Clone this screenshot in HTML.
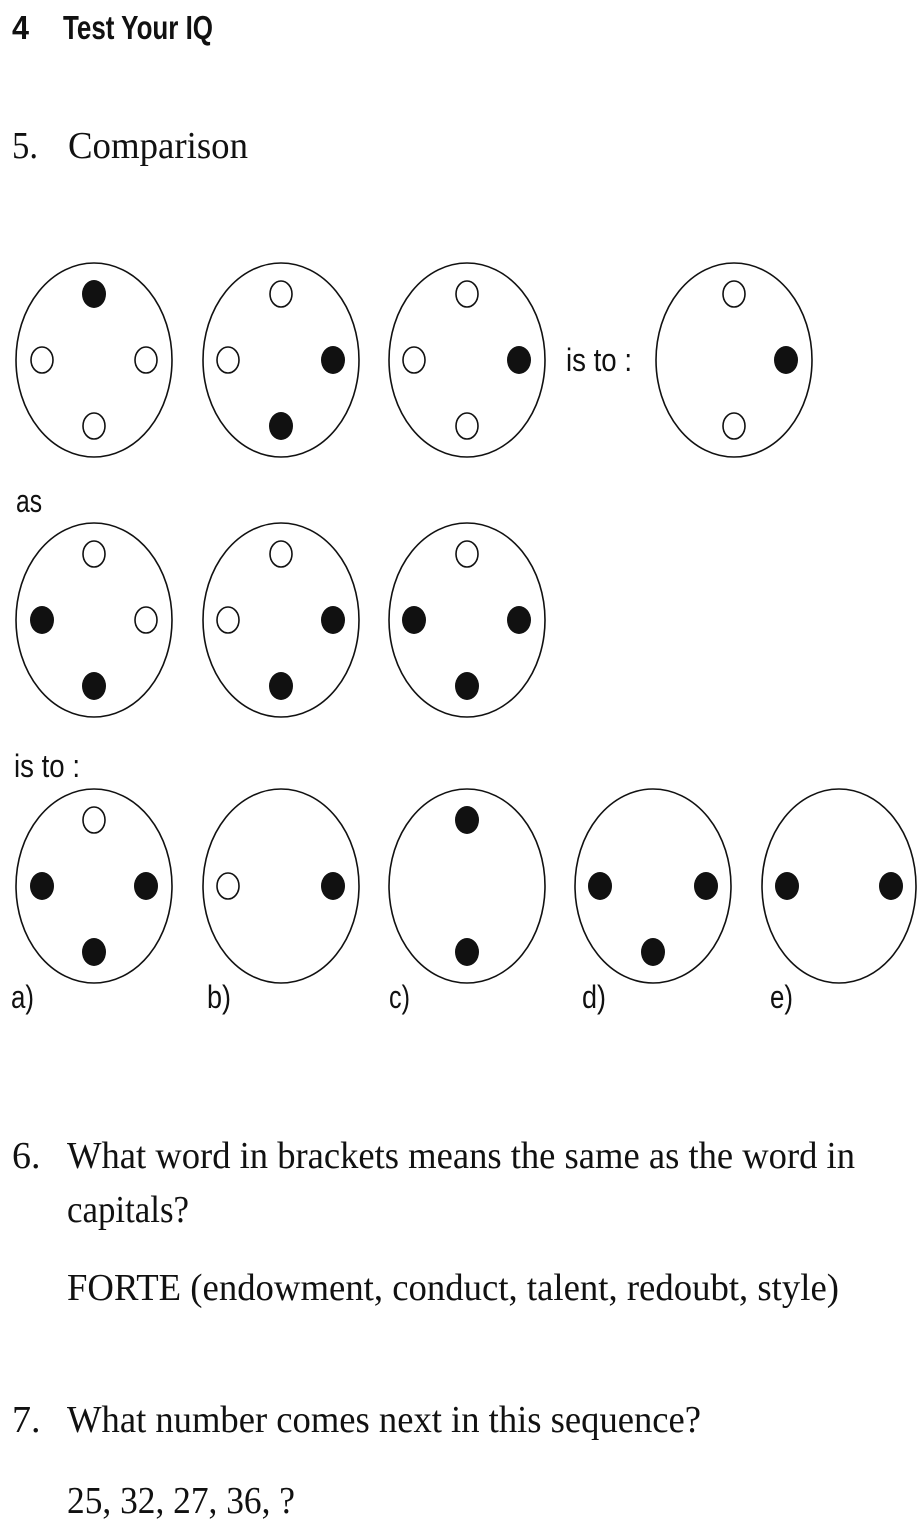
<!DOCTYPE html>
<html><head><meta charset="utf-8"><style>
html,body{margin:0;padding:0;background:#fff;width:917px;height:1532px;overflow:hidden}
svg{display:block}
.s{font-family:"Liberation Sans",sans-serif}
.r{font-family:"Liberation Serif",serif;font-size:38px}
</style></head><body>
<svg width="917" height="1532" viewBox="0 0 917 1532" xmlns="http://www.w3.org/2000/svg">
<g fill="#111">
<text class="s" x="12" y="39" font-size="33" font-weight="bold" textLength="17" lengthAdjust="spacingAndGlyphs">4</text>
<text class="s" x="63" y="39" font-size="33" font-weight="bold" textLength="150" lengthAdjust="spacingAndGlyphs">Test Your IQ</text>
<text class="r" x="12" y="158" font-size="40" textLength="26" lengthAdjust="spacingAndGlyphs">5.</text>
<text class="r" x="68" y="158" font-size="40" textLength="180" lengthAdjust="spacingAndGlyphs">Comparison</text>
<text class="s" x="566" y="371" font-size="32" textLength="66" lengthAdjust="spacingAndGlyphs">is to :</text>
<text class="s" x="16" y="512" font-size="32" textLength="26" lengthAdjust="spacingAndGlyphs">as</text>
<text class="s" x="14" y="777" font-size="32" textLength="66" lengthAdjust="spacingAndGlyphs">is to :</text>
<text class="s" x="11" y="1008" font-size="32" textLength="23" lengthAdjust="spacingAndGlyphs">a)</text>
<text class="s" x="207" y="1008" font-size="32" textLength="24" lengthAdjust="spacingAndGlyphs">b)</text>
<text class="s" x="389" y="1008" font-size="32" textLength="21" lengthAdjust="spacingAndGlyphs">c)</text>
<text class="s" x="582" y="1008" font-size="32" textLength="24" lengthAdjust="spacingAndGlyphs">d)</text>
<text class="s" x="770" y="1008" font-size="32" textLength="23" lengthAdjust="spacingAndGlyphs">e)</text>
<text class="r" x="12" y="1168">6.</text>
<text class="r" x="67" y="1168" textLength="788" lengthAdjust="spacingAndGlyphs">What word in brackets means the same as the word in</text>
<text class="r" x="67" y="1222" textLength="122" lengthAdjust="spacingAndGlyphs">capitals?</text>
<text class="r" x="67" y="1300" textLength="772" lengthAdjust="spacingAndGlyphs">FORTE (endowment, conduct, talent, redoubt, style)</text>
<text class="r" x="12" y="1432">7.</text>
<text class="r" x="67" y="1432" textLength="634" lengthAdjust="spacingAndGlyphs">What number comes next in this sequence?</text>
<text class="r" x="67" y="1513" textLength="228" lengthAdjust="spacingAndGlyphs">25, 32, 27, 36, ?</text>
</g>
<g stroke="#111" stroke-width="1.6" fill="none">
<ellipse cx="94" cy="360" rx="78" ry="97"/>
<ellipse cx="281" cy="360" rx="78" ry="97"/>
<ellipse cx="467" cy="360" rx="78" ry="97"/>
<ellipse cx="734" cy="360" rx="78" ry="97"/>
<ellipse cx="94" cy="620" rx="78" ry="97"/>
<ellipse cx="281" cy="620" rx="78" ry="97"/>
<ellipse cx="467" cy="620" rx="78" ry="97"/>
<ellipse cx="94" cy="886" rx="78" ry="97"/>
<ellipse cx="281" cy="886" rx="78" ry="97"/>
<ellipse cx="467" cy="886" rx="78" ry="97"/>
<ellipse cx="653" cy="886" rx="78" ry="97"/>
<ellipse cx="839" cy="886" rx="77" ry="97"/>
</g>
<g stroke="#111" stroke-width="1.6" fill="#fff">
<ellipse cx="42" cy="360" rx="11" ry="13"/><ellipse cx="146" cy="360" rx="11" ry="13"/><ellipse cx="94" cy="426" rx="11" ry="13"/>
<ellipse cx="281" cy="294" rx="11" ry="13"/><ellipse cx="228" cy="360" rx="11" ry="13"/>
<ellipse cx="467" cy="294" rx="11" ry="13"/><ellipse cx="414" cy="360" rx="11" ry="13"/><ellipse cx="467" cy="426" rx="11" ry="13"/>
<ellipse cx="734" cy="294" rx="11" ry="13"/><ellipse cx="734" cy="426" rx="11" ry="13"/>
<ellipse cx="94" cy="554" rx="11" ry="13"/><ellipse cx="146" cy="620" rx="11" ry="13"/>
<ellipse cx="281" cy="554" rx="11" ry="13"/><ellipse cx="228" cy="620" rx="11" ry="13"/>
<ellipse cx="467" cy="554" rx="11" ry="13"/>
<ellipse cx="94" cy="820" rx="11" ry="13"/>
<ellipse cx="228" cy="886" rx="11" ry="13"/>
</g>
<g fill="#111">
<ellipse cx="94" cy="294" rx="12" ry="14"/>
<ellipse cx="333" cy="360" rx="12" ry="14"/><ellipse cx="281" cy="426" rx="12" ry="14"/>
<ellipse cx="519" cy="360" rx="12" ry="14"/>
<ellipse cx="786" cy="360" rx="12" ry="14"/>
<ellipse cx="42" cy="620" rx="12" ry="14"/><ellipse cx="94" cy="686" rx="12" ry="14"/>
<ellipse cx="333" cy="620" rx="12" ry="14"/><ellipse cx="281" cy="686" rx="12" ry="14"/>
<ellipse cx="414" cy="620" rx="12" ry="14"/><ellipse cx="519" cy="620" rx="12" ry="14"/><ellipse cx="467" cy="686" rx="12" ry="14"/>
<ellipse cx="42" cy="886" rx="12" ry="14"/><ellipse cx="146" cy="886" rx="12" ry="14"/><ellipse cx="94" cy="952" rx="12" ry="14"/>
<ellipse cx="333" cy="886" rx="12" ry="14"/>
<ellipse cx="467" cy="820" rx="12" ry="14"/><ellipse cx="467" cy="952" rx="12" ry="14"/>
<ellipse cx="600" cy="886" rx="12" ry="14"/><ellipse cx="706" cy="886" rx="12" ry="14"/><ellipse cx="653" cy="952" rx="12" ry="14"/>
<ellipse cx="787" cy="886" rx="12" ry="14"/><ellipse cx="891" cy="886" rx="12" ry="14"/>
</g>
</svg>
</body></html>
